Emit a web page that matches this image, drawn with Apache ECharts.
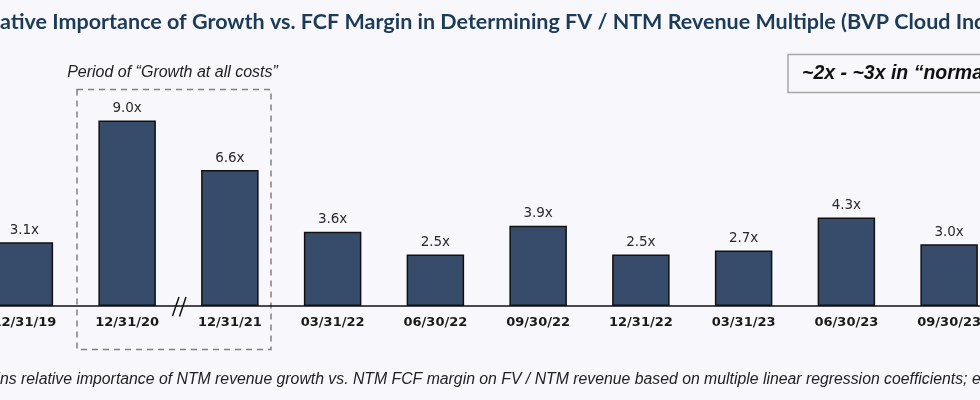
<!DOCTYPE html>
<html><head><meta charset="utf-8">
<script src="https://cdn.jsdelivr.net/npm/echarts@6/dist/echarts.min.js"></script>
<style>html,body{margin:0;padding:0;background:#f8f7fc;overflow:hidden;width:980px;height:400px}
#c{position:absolute;left:-27px;top:0;width:1070px;height:400px}</style>
</head><body><div id="c"></div>
<script>
// ---- data ----
const categories = ['12/31/19','12/31/20','12/31/21','03/31/22','06/30/22','09/30/22','12/31/22','03/31/23','06/30/23','09/30/23'];
const multiples = [3.1, 9.0, 6.6, 3.6, 2.5, 3.9, 2.5, 2.7, 4.3, 3.0];
const titleText = 'Relative Importance of Growth vs. FCF Margin in Determining FV / NTM Revenue Multiple (BVP Cloud Index)';
const titleHiddenPrefix = 'Rel';
const periodText = 'Period of \u201cGrowth at all costs\u201d';
const boxText = '~2x - ~3x in \u201cnormal\u201d times';
const noteText = 'Note: Explains relative importance of NTM revenue growth vs. NTM FCF margin on FV / NTM revenue based on multiple linear regression coefficients; e.g.';
const noteHiddenPrefix = 'Note: Explai';

// ---- style ----
const OX = 27; // container is shifted left by this many px
const titleFont = 'bold 21.5px Lato';
const noteFont = 'italic 15.8px "Liberation Sans", Arial';
function measure(font, txt){
  const c = document.createElement('canvas').getContext('2d');
  c.font = font; return c.measureText(txt).width;
}
const titleX = OX - measure(titleFont, titleHiddenPrefix);
const noteX = OX - measure(noteFont, noteHiddenPrefix);

const chart = echarts.init(document.getElementById('c'), null, {renderer:'canvas'});
chart.setOption({
  backgroundColor: '#f8f7fc',
  animation: false,
  grid: { left: 0, width: 1027.5, top: 100, height: 206 },
  xAxis: {
    type: 'category', data: categories,
    axisLine: { lineStyle: { color: '#111', width: 1.5 } },
    axisTick: { show: false },
    axisLabel: { fontFamily: 'DejaVu Sans', fontWeight: 'bold', fontSize: 13, color: '#1a1a1a', margin: 10 }
  },
  yAxis: { type: 'value', min: 0, max: 10, show: false, splitLine: { show: false } },
  series: [{
    type: 'bar', data: multiples, barWidth: 57.5,
    itemStyle: { color: '#374c6b', borderColor: '#111', borderWidth: 1.5 },
    label: { show: true, position: 'top', distance: 5, formatter: p => p.value.toFixed(1) + 'x',
      fontFamily: 'DejaVu Sans', fontSize: 13.5, color: '#2a2a2a' }
  }],
  graphic: [
    { type: 'text', x: titleX, y: 22, style: { text: titleText, font: titleFont, fill: '#1b3b58', textVerticalAlign: 'middle' } },
    { type: 'text', x: OX + 172.5, y: 73, style: { text: periodText, font: 'italic 16px "Liberation Sans", Arial', fill: '#222', textAlign: 'center', textVerticalAlign: 'middle' } },
    { type: 'rect', shape: { x: OX + 77, y: 89.5, width: 194, height: 260 }, style: { fill: 'none', stroke: '#808080', lineWidth: 1.5, lineDash: [6, 5] } },
    { type: 'rect', shape: { x: OX + 788, y: 54.5, width: 280, height: 38 }, style: { fill: 'none', stroke: '#a6a6a6', lineWidth: 1.5 } },
    { type: 'text', x: OX + 802, y: 73.5, style: { text: boxText, font: 'italic bold 19.5px "Liberation Sans", Arial', fill: '#111', textVerticalAlign: 'middle' } },
    { type: 'line', shape: { x1: OX + 172.5, y1: 316, x2: OX + 179, y2: 297 }, style: { stroke: '#111', lineWidth: 1.5 } },
    { type: 'line', shape: { x1: OX + 179.5, y1: 316.5, x2: OX + 186, y2: 297 }, style: { stroke: '#111', lineWidth: 1.5 } },
    { type: 'text', x: noteX, y: 380, style: { text: noteText, font: noteFont, fill: '#222', textVerticalAlign: 'middle' } }
  ]
});
</script></body></html>
